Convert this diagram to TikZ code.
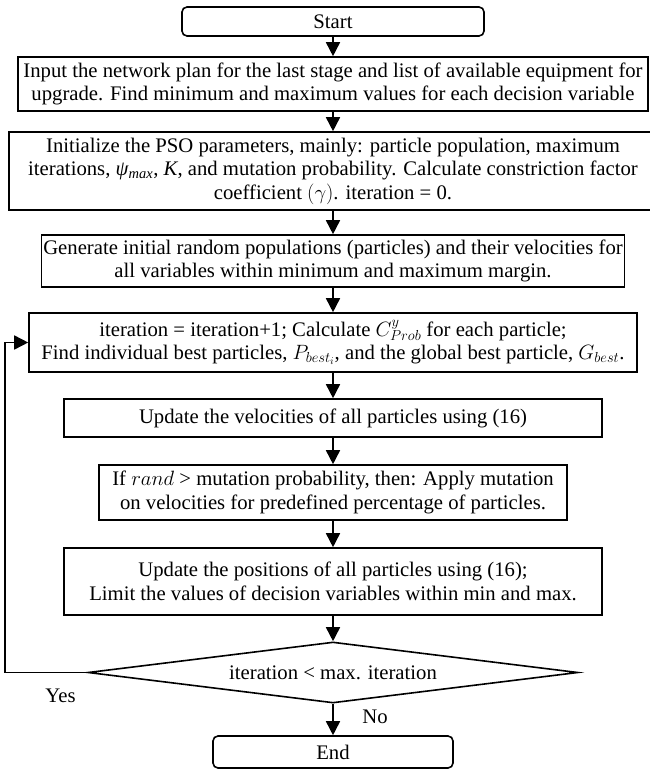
\RequirePackage{fix-cm}
\documentclass[tikz,border=0pt]{standalone}
\usepackage{fontspec}
\setmainfont{Liberation Serif}
\usetikzlibrary{arrows.meta,shapes.geometric}

\begin{document}
\begin{tikzpicture}[x=1pt,y=-1pt,
  every node/.style={font=\fontsize{20.7}{23.5}\selectfont},
  box/.style={draw, line width=1.6pt, inner sep=0pt, align=center},
  term/.style={box, rounded corners=5pt},
  decision/.style={draw, diamond, aspect=8, line width=1.6pt, inner sep=0pt},
  flow/.style={line width=1.6pt, -{Triangle[width=14pt,length=14pt]}},
  lbl/.style={inner sep=0pt}
]
\useasboundingbox (0,0) rectangle (649,770);

% process steps, top to bottom
\node[term, minimum width=302pt, minimum height=29pt] (start) at (333,21.5) {Start};

\node[box, minimum width=630pt, minimum height=54pt] (input) at (333,84)
  {Input the network plan for the last stage and list of available equipment for\\
   upgrade. Find minimum and maximum values for each decision variable};

\node[box, minimum width=648pt, minimum height=78pt] (init) at (333,171)
  {Initialize the PSO parameters, mainly: particle population, maximum\\
   iterations, \textit{ψ}\textsubscript{\textit{max}}, \textit{K}, and mutation probability. Calculate constriction factor\\
   coefficient $(\gamma)$. iteration = 0.};

\node[box, minimum width=583pt, minimum height=52pt] (gen) at (333,261)
  {Generate initial random populations (particles) and their velocities for\\
   all variables within minimum and maximum margin.};

\node[box, minimum width=608pt, minimum height=59pt] (iter) at (333,342.5)
  {iteration = iteration+1; Calculate $C^{y}_{Prob}$ for each particle;\\
   Find individual best particles, $P_{best_i}$, and the global best particle, $G_{best}$.};

\node[box, minimum width=538pt, minimum height=38pt] (vel) at (333,418)
  {Update the velocities of all particles using (16)};

\node[box, minimum width=468pt, minimum height=55pt] (mut) at (333,492.5)
  {If $rand$ > mutation probability, then: Apply mutation\\
   on velocities for predefined percentage of particles.};

\node[box, minimum width=538pt, minimum height=67pt] (pos) at (333,581.5)
  {Update the positions of all particles using (16);\\
   Limit the values of decision variables within min and max.};

\node[decision, minimum width=490pt, minimum height=61pt] (test) at (333,672.5)
  {iteration < max. iteration};

\node[term, minimum width=240pt, minimum height=32pt] (end) at (333,752) {End};

% branch labels
\node[lbl] (yes) at (60.5,696) {Yes};
\node[lbl] (no) at (375,717) {No};

% connectors
\draw[flow] (start.south) -- (input.north);
\draw[flow] (input.south) -- (init.north);
\draw[flow] (init.south) -- (gen.north);
\draw[flow] (gen.south) -- (iter.north);
\draw[flow] (iter.south) -- (vel.north);
\draw[flow] (vel.south) -- (mut.north);
\draw[flow] (mut.south) -- (pos.north);
\draw[flow] (pos.south) -- (test.north);
\draw[flow] (test.south) -- (end.north);

% loop back while iterations remain
\coordinate (loop) at (5,672.5);
\draw[flow] (test.west) -- (loop) |- (iter.west);
\end{tikzpicture}
\end{document}
